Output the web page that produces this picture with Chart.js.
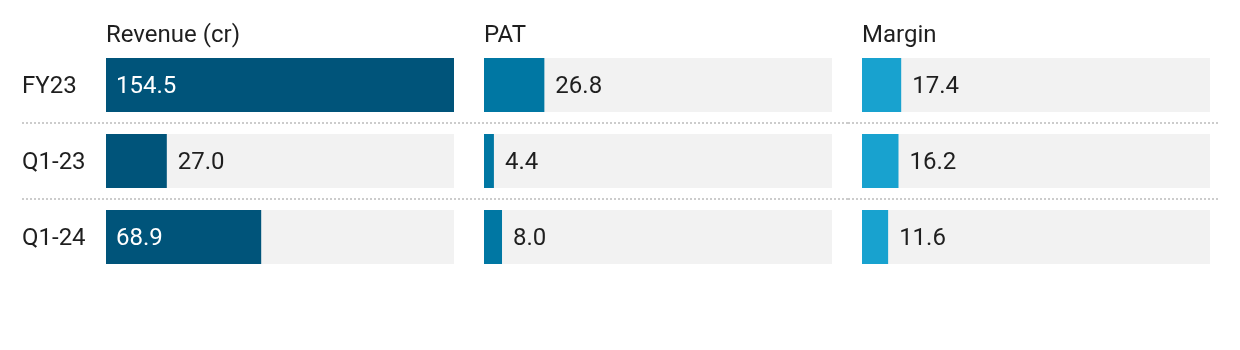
<!DOCTYPE html>
<html>
<head>
<meta charset="utf-8">
<script src="https://cdn.jsdelivr.net/npm/chart.js@4.4.1/dist/chart.umd.min.js"></script>
<style>
  html, body { margin: 0; padding: 0; background: #fff; }
  #wrap { position: relative; width: 1240px; height: 350px; }
  .col { position: absolute; top: 0; height: 350px; }
</style>
</head>
<body>
<div id="wrap">
  <div class="col" style="left:22px;width:448px"><canvas id="c1"></canvas></div>
  <div class="col" style="left:470px;width:378px"><canvas id="c2"></canvas></div>
  <div class="col" style="left:848px;width:370px"><canvas id="c3"></canvas></div>
</div>
<script>
// Data
const periods = ['FY23', 'Q1-23', 'Q1-24'];
const revenue = [154.5, 27.0, 68.9];
const pat = [26.8, 4.4, 8.0];
const margin = [17.4, 16.2, 11.6];
const columnTitles = ['Revenue (cr)', 'PAT', 'Margin'];

// all three columns share one scale
const sharedMax = Math.max(...revenue, ...pat, ...margin);

const FONT = '24px Roboto';
const TEXT = '#1f1f1f';

// grey track behind the bars, header text, row names and the dotted separators
const decorPlugin = {
  id: 'decor',
  beforeDatasetsDraw(chart, args, opts) {
    const ctx = chart.ctx;
    const area = chart.chartArea;
    const meta = chart.getDatasetMeta(0);
    ctx.save();
    // tracks
    ctx.fillStyle = '#f2f2f2';
    meta.data.forEach((bar) => {
      const h = bar.height;
      ctx.fillRect(area.left, bar.y - h / 2, area.right - area.left, h);
    });
    // separators between rows
    const yScale = chart.scales.y;
    ctx.strokeStyle = '#cccccc';
    ctx.lineWidth = 2;
    ctx.setLineDash([2, 2]);
    for (let i = 1; i < periods.length; i++) {
      const y = Math.round((yScale.getPixelForValue(i - 1) + yScale.getPixelForValue(i)) / 2);
      ctx.beginPath();
      ctx.moveTo(0, y);
      ctx.lineTo(chart.width, y);
      ctx.stroke();
    }
    ctx.setLineDash([]);
    // column header
    ctx.fillStyle = TEXT;
    ctx.font = FONT;
    ctx.textBaseline = 'middle';
    ctx.textAlign = 'left';
    ctx.fillText(opts.title, area.left, 36);
    // row names, first column only
    if (opts.rowNames) {
      chart.data.labels.forEach((name, i) => {
        ctx.fillText(name, 0, yScale.getPixelForValue(i) + 2);
      });
    }
    ctx.restore();
  },
  afterDatasetsDraw(chart) {
    const ctx = chart.ctx;
    const meta = chart.getDatasetMeta(0);
    const values = chart.data.datasets[0].data;
    ctx.save();
    ctx.font = FONT;
    ctx.textBaseline = 'middle';
    ctx.textAlign = 'left';
    meta.data.forEach((bar, i) => {
      const label = values[i].toFixed(1);
      const w = ctx.measureText(label).width;
      const barW = bar.x - bar.base;
      if (w + 20 <= barW) {
        ctx.fillStyle = '#ffffff';
        ctx.fillText(label, bar.base + 10, bar.y + 2);
      } else {
        ctx.fillStyle = TEXT;
        ctx.fillText(label, bar.x + 11, bar.y + 2);
      }
    });
    ctx.restore();
  }
};

function makeColumn(id, values, color, title, padLeft, padRight, rowNames) {
  return new Chart(document.getElementById(id), {
    type: 'bar',
    data: {
      labels: periods,
      datasets: [{
        data: values,
        backgroundColor: color,
        borderWidth: 0,
        barPercentage: 1,
        categoryPercentage: 54 / 76
      }]
    },
    options: {
      indexAxis: 'y',
      responsive: true,
      maintainAspectRatio: false,
      animation: false,
      layout: { padding: { top: 47, bottom: 75, left: padLeft, right: padRight } },
      plugins: {
        legend: { display: false },
        tooltip: { enabled: false },
        decor: { title: title, rowNames: rowNames }
      },
      scales: {
        x: {
          display: false,
          min: 0,
          max: sharedMax
        },
        y: {
          display: false
        }
      }
    },
    plugins: [decorPlugin]
  });
}

makeColumn('c1', revenue, '#00547a', columnTitles[0], 84, 16, true);
makeColumn('c2', pat, '#0077a3', columnTitles[1], 14, 16, false);
makeColumn('c3', margin, '#18a2cf', columnTitles[2], 14, 8, false);
</script>
</body>
</html>
